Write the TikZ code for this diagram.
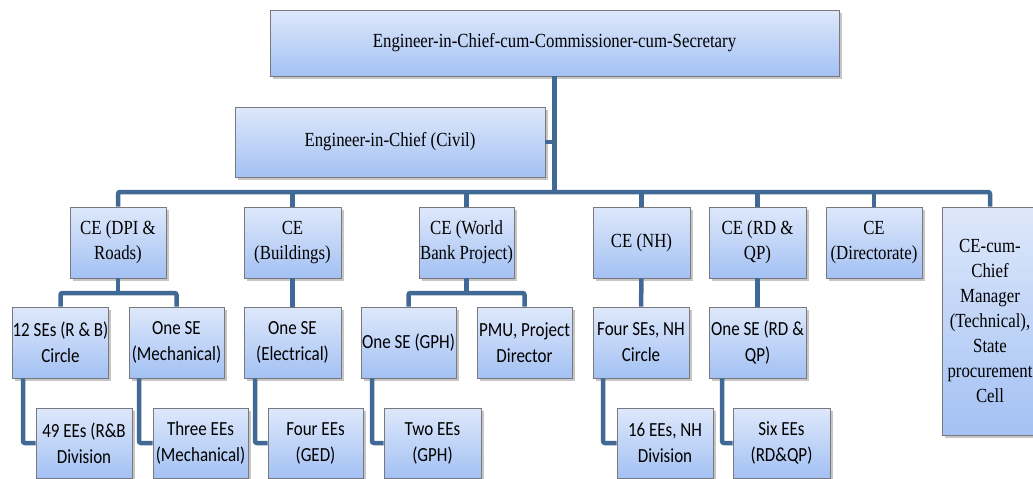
\documentclass[tikz,border=0pt]{standalone}
\usepackage{fontspec}
\usetikzlibrary{shadows}
\newfontfamily\myserifnarrow[FakeStretch=0.84]{Liberation Serif}
\newfontfamily\mysansnarrow[FakeStretch=0.85]{Carlito}
\definecolor{conncol}{RGB}{65,105,150}
\definecolor{boxtop}{RGB}{222,232,251}
\definecolor{boxbot}{RGB}{163,193,243}
\definecolor{boxedge}{RGB}{120,120,125}
\tikzset{
  box/.style={draw=boxedge, line width=0.9pt, top color=boxtop, bottom color=boxbot,
    drop shadow={shadow xshift=2.5pt, shadow yshift=-2.5pt, opacity=0.45},
    inner sep=0pt, align=center},
  serifbox/.style={box, font=\myserifnarrow\fontsize{20}{25}\selectfont},
  sansbox/.style={box, font=\mysansnarrow\fontsize{20}{26}\selectfont},
  conn/.style={draw=conncol, line width=4.5pt, rounded corners=2pt},
}
\begin{document}
\begin{tikzpicture}[x=1pt,y=-1pt]
\useasboundingbox (0,0) rectangle (1033,479);
% level 0 and 1
\node[serifbox, minimum width=569pt, minimum height=66pt] (top) at (554.5,43) {Engineer-in-Chief-cum-Commissioner-cum-Secretary};
\node[serifbox, minimum width=310pt, minimum height=70pt] (civ) at (390,142) {Engineer-in-Chief (Civil)};
\coordinate (bus) at (554.5,192);
% level 2
\node[serifbox, minimum width=96pt, minimum height=71pt] (dpi) at (118,242.5) {CE (DPI \&\\Roads)};
\node[serifbox, minimum width=97pt, minimum height=71pt] (bld) at (292.5,242.5) {CE\\(Buildings)};
\node[serifbox, minimum width=95pt, minimum height=71pt] (wb) at (466.5,242.5) {CE (World\\Bank Project)};
\node[serifbox, minimum width=97pt, minimum height=71pt] (nh) at (641.5,242.5) {CE (NH)};
\node[serifbox, minimum width=97pt, minimum height=71pt] (rd) at (757.5,242.5) {CE (RD \&\\QP)};
\node[serifbox, minimum width=96pt, minimum height=71pt] (dir) at (874,242.5) {CE\\(Directorate)};
\node[serifbox, minimum width=96pt, minimum height=228pt] (cecum) at (990,321) {CE-cum-\\Chief\\Manager\\(Technical),\\State\\procurement\\Cell};
% level 3
\node[sansbox, minimum width=95pt, minimum height=71pt] (se12) at (60.5,342.5) {12 SEs (R \& B)\\Circle};
\node[sansbox, minimum width=95pt, minimum height=71pt] (mech) at (176.5,342.5) {One SE\\(Mechanical)};
\node[sansbox, minimum width=97pt, minimum height=71pt] (elec) at (292.5,342.5) {One SE\\(Electrical)};
\node[sansbox, minimum width=95pt, minimum height=71pt] (gph) at (408.5,342.5) {One SE (GPH)};
\node[sansbox, minimum width=95pt, minimum height=71pt] (pmu) at (524.5,342.5) {PMU, Project\\Director};
\node[sansbox, minimum width=96pt, minimum height=71pt] (nhse) at (641,342.5) {Four SEs, NH\\Circle};
\node[sansbox, minimum width=97pt, minimum height=71pt] (rdse) at (757.5,342.5) {One SE (RD \&\\QP)};
% level 4
\node[sansbox, minimum width=96pt, minimum height=70pt] (ee49) at (84,443) {49 EEs (R\&B\\Division};
\node[sansbox, minimum width=95pt, minimum height=70pt] (mee) at (200.5,443) {Three EEs\\(Mechanical)};
\node[sansbox, minimum width=95pt, minimum height=70pt] (gee) at (315.5,443) {Four EEs\\(GED)};
\node[sansbox, minimum width=97pt, minimum height=70pt] (tee) at (432.5,443) {Two EEs\\(GPH)};
\node[sansbox, minimum width=96pt, minimum height=70pt] (nhee) at (665,443) {16 EEs, NH\\Division};
\node[sansbox, minimum width=97pt, minimum height=70pt] (rdee) at (781.5,443) {Six EEs\\(RD\&QP)};
% connectors
\coordinate (dpij) at (118,293);
\coordinate (wbj) at (466.5,293);
\draw[conn] (top.south) -- (bus);
\draw[conn] (civ.east) -- (civ.east -| top.south);
\draw[conn] (dpi.north) |- (bus) -| (cecum.north);
\draw[conn] (bld.north) -- (bld.north |- bus);
\draw[conn] (wb.north) -- (wb.north |- bus);
\draw[conn] (nh.north) -- (nh.north |- bus);
\draw[conn] (rd.north) -- (rd.north |- bus);
\draw[conn] (dir.north) -- (dir.north |- bus);
\draw[conn] (dpi.south) -- (dpij);
\draw[conn] (se12.north) |- (dpij) -| (mech.north);
\draw[conn] (bld.south) -- (elec.north);
\draw[conn] (wb.south) -- (wbj);
\draw[conn] (gph.north) |- (wbj) -| (pmu.north);
\draw[conn] (nh.south) -- (nhse.north);
\draw[conn] (rd.south) -- (rdse.north);
\draw[conn] ([xshift=-37.5pt]se12.south) |- (ee49.west);
\draw[conn] ([xshift=-37.5pt]mech.south) |- (mee.west);
\draw[conn] ([xshift=-37.5pt]elec.south) |- (gee.west);
\draw[conn] ([xshift=-36.5pt]gph.south) |- (tee.west);
\draw[conn] ([xshift=-38pt]nhse.south) |- (nhee.west);
\draw[conn] ([xshift=-35.5pt]rdse.south) |- (rdee.west);
\end{tikzpicture}
\end{document}
